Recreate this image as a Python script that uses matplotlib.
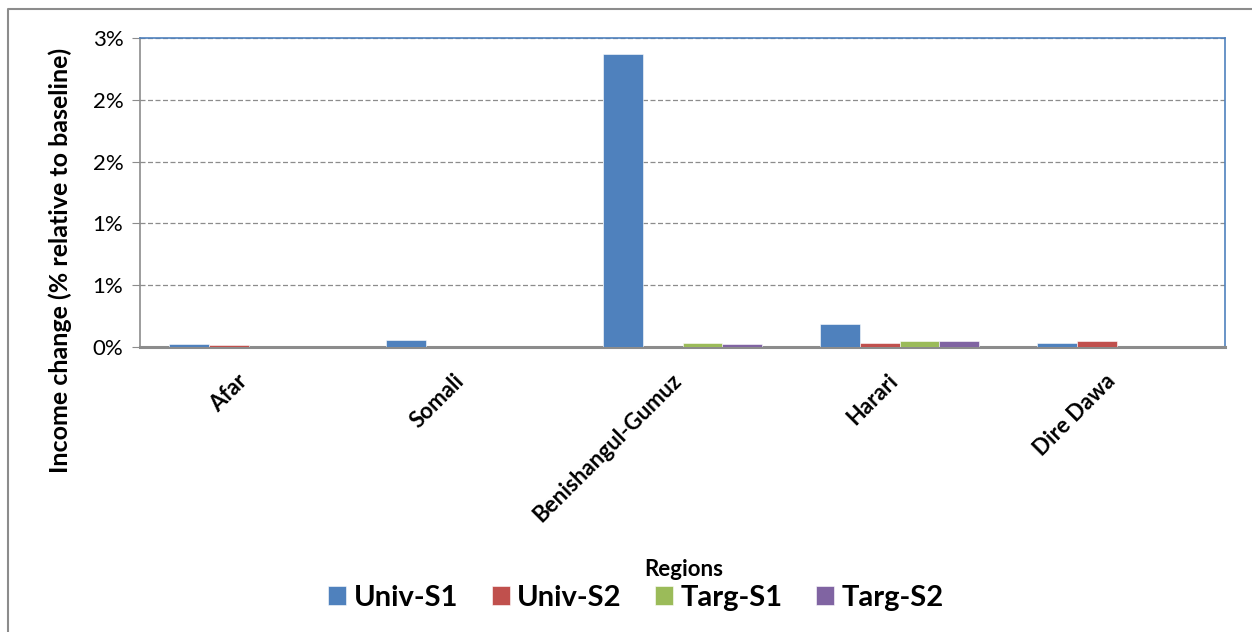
"""Income change by region under four transfer scenarios."""

import matplotlib.pyplot as plt
import numpy as np
from matplotlib.lines import Line2D
from matplotlib.ticker import FuncFormatter, MultipleLocator
from matplotlib.transforms import ScaledTranslation

plt.rcParams["font.family"] = ["Lato", "DejaVu Sans"]

regions = ["Afar", "Somali", "Benishangul-Gumuz", "Harari", "Dire Dawa"]
series_names = ["Univ-S1", "Univ-S2", "Targ-S1", "Targ-S2"]
univ_s1 = [0.024, 0.056, 2.37, 0.185, 0.032]
univ_s2 = [0.016, 0.0, 0.0, 0.032, 0.048]
targ_s1 = [0.0, 0.0, 0.032, 0.048, 0.0]
targ_s2 = [0.0, 0.0, 0.024, 0.048, 0.0]
colors = ["#4F81BD", "#C0504D", "#9BBB59", "#8064A2"]

W, H = 1252, 632
fig = plt.figure(figsize=(W / 100, H / 100), dpi=100)
ax = fig.add_axes([140 / W, 1 - 347 / H, (1225 - 140) / W, (347 - 38) / H])

# outer chart border (only top and left edges are inside the picture)
fig.lines.append(Line2D([8 / W, 8 / W, 1.0], [0.0, 1 - 9 / H, 1 - 9 / H],
                        transform=fig.transFigure, color="#8C8C8C", linewidth=1.5))

x = np.arange(len(regions))
width = 0.184
for i, (vals, name) in enumerate(zip([univ_s1, univ_s2, targ_s1, targ_s2], series_names)):
    offset = (i - 1.5) * width
    ax.bar(x + offset, vals, width=width, color=colors[i], label=name,
           edgecolor="white", linewidth=0.4, zorder=3)

ax.set_xlim(-0.5, len(regions) - 0.5)
ax.set_ylim(0, 2.5)
ax.yaxis.set_major_locator(MultipleLocator(0.5))
ax.yaxis.set_major_formatter(FuncFormatter(lambda v, _: f"{int(v + 0.5 + 1e-9)}%"))
ax.grid(axis="y", linestyle=(0, (4, 2)), color="#8C8C8C", linewidth=0.9, zorder=0)

for side in ["top", "right"]:
    ax.spines[side].set_color("#4F81BD")
    ax.spines[side].set_linewidth(1.2)
ax.spines["left"].set_color("#8C8C8C")
ax.spines["bottom"].set_color("#8C8C8C")
ax.spines["bottom"].set_linewidth(2.2)
ax.spines["left"].set_linewidth(1.2)

ax.tick_params(axis="y", length=6, color="#8C8C8C", labelsize=16, pad=6)
ax.tick_params(axis="x", length=0, labelsize=16, pad=8)
ax.set_xticks(x)
ax.set_xticklabels(regions, rotation=45, ha="right", rotation_mode="anchor",
                   fontweight="bold")
shift = ScaledTranslation(-0.12, -0.12, fig.dpi_scale_trans)
for lbl in ax.get_xticklabels():
    lbl.set_transform(lbl.get_transform() + shift)

ax.set_ylabel("Income change (% relative to baseline)", fontsize=18,
              fontweight="bold")
ax.yaxis.set_label_coords((72 - 140) / 1085, (347 - 260) / 309)

fig.text(684 / W, 1 - 569 / H, "Regions", ha="center", va="center",
         fontsize=16, fontweight="bold")

fig.legend(loc="center", bbox_to_anchor=(636 / W, 1 - 598 / H), ncol=4,
           frameon=False, prop={"size": 21, "weight": "bold"},
           handlelength=0.62, handleheight=0.62, handletextpad=0.25,
           columnspacing=1.15)

fig.savefig("out.png", dpi=100)
